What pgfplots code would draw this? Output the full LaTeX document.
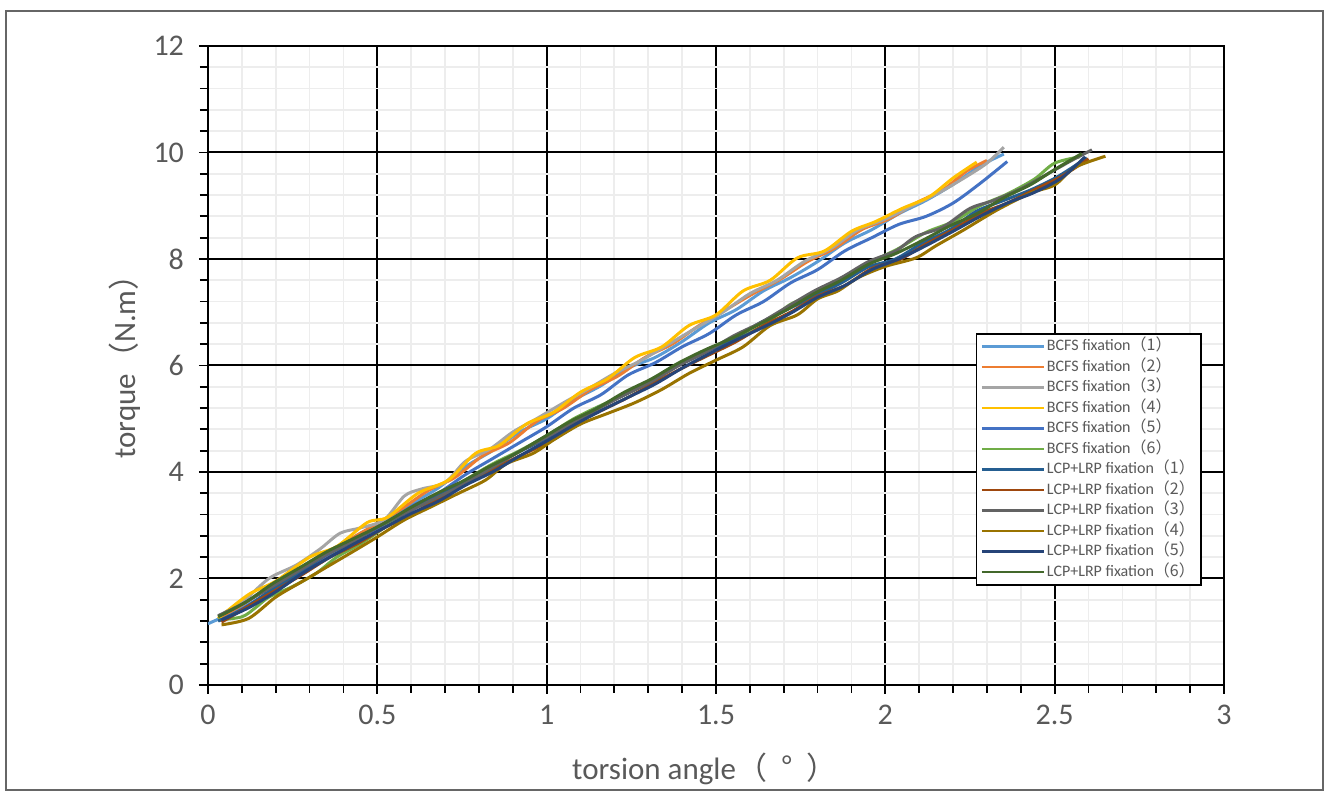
\documentclass[border=0pt]{standalone}
\usepackage{fontspec}
\setmainfont{Carlito}
\newfontfamily\cjk{Noto Sans CJK SC}
\usepackage{pgfplots}
\pgfplotsset{compat=1.18}
\definecolor{lab}{HTML}{595959}
\definecolor{cA}{HTML}{5B9BD5}
\definecolor{cB}{HTML}{ED7D31}
\definecolor{cC}{HTML}{A5A5A5}
\definecolor{cD}{HTML}{FFC000}
\definecolor{cE}{HTML}{4472C4}
\definecolor{cF}{HTML}{70AD47}
\definecolor{cG}{HTML}{255E91}
\definecolor{cH}{HTML}{9E480E}
\definecolor{cI}{HTML}{636363}
\definecolor{cJ}{HTML}{997300}
\definecolor{cK}{HTML}{264478}
\definecolor{cL}{HTML}{43682B}
\begin{document}
\begin{tikzpicture}
\begin{axis}[
  scale only axis, width=508pt, height=319.5pt,
  xmin=0, xmax=3, ymin=0, ymax=12,
  xtick={0,0.5,...,3}, ytick={0,2,...,12},
  xticklabels={0,0.5,1,1.5,2,2.5,3},
  minor x tick num=4, minor y tick num=4,
  grid=both,
  major grid style={black, line width=1pt},
  minor grid style={color=black!7, line width=0.9pt},
  axis line style={black, line width=1pt},
  tick align=outside, xtick pos=bottom, ytick pos=left,
  major tick length=4.5pt, minor tick length=4pt,
  every tick/.style={black, line width=0.9pt},
  /pgf/number format/assume math mode=true,
  ticklabel style={font=\fontsize{15}{17}\selectfont, text=lab},
  xticklabel style={yshift=-2pt},
  yticklabel style={xshift=-4pt},
  xlabel={torsion angle{\cjk （\hspace{0.45em}°\hspace{0.45em}）}},
  ylabel={torque{\cjk （}N.m{\cjk ）}},
  label style={font=\fontsize{15.5}{17}\selectfont, text=lab},
  xlabel style={at={(axis description cs:0.489,-0.131)}, anchor=center},
  ylabel style={at={(axis description cs:-0.082,0.51)}, anchor=center, rotate=0},
  every axis plot/.append style={line width=1.5pt, smooth, no marks},
  legend style={at={(rel axis cs:0.978,0.551)}, anchor=north east,
    draw=black, line width=0.8pt, fill=white,
    font=\fontsize{8}{9}\selectfont, text=lab,
    nodes={inner sep=1pt, text height=6pt, text depth=1.8pt},
    row sep=0.45pt, inner xsep=2pt, inner ysep=1.5pt},
  legend cell align=left,
  legend image code/.code={\draw[#1, line width=1.2pt] (4pt,0pt) -- (35pt,0pt);},
]
\addplot[cA] coordinates {(0.00,1.15)(0.08,1.38)(0.15,1.62)(0.22,1.88)(0.30,2.25)(0.38,2.55)(0.45,2.85)(0.52,3.05)(0.60,3.40)(0.68,3.70)(0.76,4.10)(0.84,4.40)(0.92,4.75)(1.00,5.00)(1.08,5.35)(1.16,5.62)(1.24,5.95)(1.32,6.15)(1.40,6.45)(1.48,6.80)(1.56,7.05)(1.64,7.40)(1.72,7.65)(1.80,7.95)(1.88,8.30)(1.96,8.55)(2.04,8.85)(2.12,9.10)(2.20,9.40)(2.28,9.75)(2.35,9.97)};
\addlegendentry{BCFS fixation{\cjk （1）}}
\addplot[cB] coordinates {(0.03,1.25)(0.10,1.50)(0.17,1.80)(0.25,2.10)(0.33,2.42)(0.41,2.70)(0.49,3.00)(0.57,3.30)(0.65,3.65)(0.73,3.90)(0.81,4.30)(0.89,4.55)(0.97,4.95)(1.05,5.20)(1.13,5.55)(1.21,5.80)(1.29,6.15)(1.37,6.40)(1.45,6.75)(1.53,7.05)(1.61,7.35)(1.69,7.62)(1.77,7.95)(1.85,8.20)(1.93,8.55)(2.01,8.75)(2.09,9.05)(2.17,9.30)(2.24,9.65)(2.30,9.85)};
\addlegendentry{BCFS fixation{\cjk （2）}}
\addplot[cC] coordinates {(0.03,1.30)(0.10,1.55)(0.18,2.00)(0.26,2.25)(0.33,2.55)(0.39,2.85)(0.45,2.95)(0.52,3.10)(0.58,3.55)(0.63,3.68)(0.70,3.80)(0.76,4.20)(0.83,4.42)(0.90,4.75)(0.97,5.00)(1.05,5.30)(1.12,5.55)(1.20,5.85)(1.28,6.10)(1.36,6.40)(1.44,6.70)(1.52,7.00)(1.60,7.35)(1.68,7.60)(1.76,7.95)(1.84,8.20)(1.92,8.55)(2.00,8.75)(2.08,9.00)(2.16,9.25)(2.24,9.55)(2.30,9.80)(2.35,10.10)};
\addlegendentry{BCFS fixation{\cjk （3）}}
\addplot[cD] coordinates {(0.03,1.25)(0.12,1.70)(0.20,1.95)(0.30,2.40)(0.38,2.60)(0.47,3.05)(0.53,3.15)(0.62,3.60)(0.71,3.85)(0.79,4.35)(0.86,4.50)(0.94,4.90)(1.02,5.12)(1.10,5.50)(1.18,5.75)(1.26,6.15)(1.34,6.35)(1.42,6.75)(1.50,6.95)(1.58,7.40)(1.66,7.60)(1.74,8.02)(1.82,8.15)(1.90,8.52)(1.97,8.70)(2.05,8.95)(2.13,9.17)(2.20,9.52)(2.27,9.82)};
\addlegendentry{BCFS fixation{\cjk （4）}}
\addplot[cE] coordinates {(0.04,1.20)(0.12,1.50)(0.20,1.80)(0.28,2.15)(0.36,2.45)(0.44,2.75)(0.52,3.00)(0.60,3.35)(0.68,3.60)(0.76,3.95)(0.84,4.25)(0.92,4.55)(1.00,4.85)(1.08,5.20)(1.16,5.45)(1.24,5.82)(1.32,6.05)(1.40,6.35)(1.48,6.60)(1.56,6.95)(1.64,7.20)(1.72,7.55)(1.80,7.80)(1.88,8.15)(1.96,8.40)(2.04,8.65)(2.12,8.80)(2.20,9.05)(2.28,9.42)(2.36,9.83)};
\addlegendentry{BCFS fixation{\cjk （5）}}
\addplot[cF] coordinates {(0.03,1.22)(0.10,1.28)(0.14,1.45)(0.18,1.65)(0.25,1.85)(0.32,2.10)(0.38,2.40)(0.45,2.65)(0.52,2.95)(0.60,3.30)(0.68,3.55)(0.76,3.85)(0.84,4.15)(0.92,4.40)(1.00,4.68)(1.08,5.00)(1.16,5.25)(1.24,5.48)(1.32,5.75)(1.40,6.05)(1.48,6.30)(1.56,6.50)(1.64,6.75)(1.72,7.15)(1.80,7.35)(1.88,7.65)(1.96,7.95)(2.04,8.20)(2.12,8.50)(2.20,8.70)(2.28,9.00)(2.36,9.22)(2.44,9.50)(2.50,9.80)(2.575,9.92)};
\addlegendentry{BCFS fixation{\cjk （6）}}
\addplot[cG] coordinates {(0.03,1.20)(0.11,1.45)(0.19,1.80)(0.27,2.10)(0.35,2.45)(0.43,2.70)(0.51,3.00)(0.59,3.25)(0.67,3.55)(0.75,3.80)(0.83,4.05)(0.91,4.35)(0.99,4.60)(1.07,4.90)(1.15,5.20)(1.23,5.45)(1.31,5.70)(1.39,6.00)(1.47,6.25)(1.55,6.50)(1.63,6.80)(1.71,7.05)(1.79,7.30)(1.87,7.55)(1.95,7.85)(2.03,8.00)(2.11,8.30)(2.19,8.55)(2.27,8.90)(2.35,9.10)(2.43,9.30)(2.51,9.55)(2.595,9.90)};
\addlegendentry{LCP+LRP fixation{\cjk （1）}}
\addplot[cH] coordinates {(0.04,1.18)(0.12,1.48)(0.20,1.78)(0.28,2.08)(0.36,2.40)(0.44,2.65)(0.52,2.95)(0.60,3.20)(0.68,3.50)(0.76,3.78)(0.84,4.05)(0.92,4.30)(1.00,4.55)(1.08,4.90)(1.16,5.15)(1.24,5.40)(1.32,5.68)(1.40,5.95)(1.48,6.20)(1.56,6.45)(1.64,6.75)(1.72,7.00)(1.80,7.30)(1.88,7.50)(1.96,7.82)(2.04,7.98)(2.12,8.28)(2.20,8.55)(2.28,8.85)(2.36,9.05)(2.44,9.30)(2.52,9.55)(2.60,9.88)};
\addlegendentry{LCP+LRP fixation{\cjk （2）}}
\addplot[cI] coordinates {(0.03,1.30)(0.11,1.55)(0.19,1.85)(0.27,2.15)(0.35,2.45)(0.43,2.70)(0.51,3.00)(0.59,3.25)(0.67,3.50)(0.75,3.75)(0.83,4.05)(0.91,4.35)(0.99,4.62)(1.07,4.90)(1.15,5.18)(1.23,5.45)(1.31,5.70)(1.39,6.00)(1.47,6.25)(1.55,6.55)(1.63,6.80)(1.71,7.10)(1.79,7.40)(1.87,7.65)(1.95,7.95)(2.03,8.15)(2.09,8.42)(2.17,8.60)(2.25,8.95)(2.32,9.10)(2.40,9.32)(2.48,9.60)(2.55,9.85)(2.61,10.05)};
\addlegendentry{LCP+LRP fixation{\cjk （3）}}
\addplot[cJ] coordinates {(0.04,1.13)(0.12,1.25)(0.20,1.65)(0.28,1.95)(0.36,2.25)(0.44,2.55)(0.50,2.78)(0.58,3.10)(0.66,3.35)(0.74,3.60)(0.82,3.85)(0.88,4.15)(0.96,4.35)(1.02,4.60)(1.10,4.90)(1.18,5.10)(1.26,5.30)(1.34,5.55)(1.42,5.85)(1.50,6.10)(1.58,6.35)(1.66,6.75)(1.74,6.95)(1.80,7.25)(1.86,7.40)(1.92,7.65)(2.00,7.86)(2.09,8.02)(2.15,8.25)(2.23,8.54)(2.33,8.92)(2.43,9.24)(2.50,9.39)(2.56,9.72)(2.65,9.93)};
\addlegendentry{LCP+LRP fixation{\cjk （4）}}
\addplot[cK] coordinates {(0.04,1.22)(0.12,1.45)(0.20,1.75)(0.28,2.10)(0.36,2.40)(0.44,2.68)(0.52,2.95)(0.60,3.22)(0.68,3.45)(0.76,3.75)(0.84,4.00)(0.92,4.30)(1.00,4.58)(1.08,4.88)(1.16,5.15)(1.24,5.40)(1.32,5.65)(1.40,5.95)(1.48,6.22)(1.56,6.48)(1.64,6.72)(1.72,6.98)(1.80,7.28)(1.88,7.50)(1.96,7.80)(2.04,8.00)(2.12,8.25)(2.20,8.52)(2.28,8.80)(2.36,9.05)(2.44,9.25)(2.52,9.52)(2.59,9.92)};
\addlegendentry{LCP+LRP fixation{\cjk （5）}}
\addplot[cL] coordinates {(0.03,1.28)(0.11,1.55)(0.19,1.90)(0.27,2.20)(0.35,2.50)(0.43,2.75)(0.51,3.00)(0.59,3.30)(0.67,3.58)(0.75,3.82)(0.83,4.10)(0.91,4.35)(0.99,4.65)(1.07,4.95)(1.15,5.20)(1.23,5.50)(1.31,5.75)(1.39,6.05)(1.47,6.30)(1.55,6.52)(1.63,6.78)(1.71,7.05)(1.79,7.35)(1.87,7.60)(1.95,7.90)(2.03,8.10)(2.11,8.35)(2.19,8.62)(2.27,8.85)(2.35,9.15)(2.43,9.40)(2.50,9.68)(2.58,9.98)};
\addlegendentry{LCP+LRP fixation{\cjk （6）}}
\end{axis}
\draw[black!60, line width=0.6pt] (-101pt,-52.5pt) rectangle (557.5pt,337pt);
\pgfresetboundingbox
\path[use as bounding box] (-104pt,-55.5pt) rectangle (561pt,342.5pt);
\end{tikzpicture}
\end{document}
